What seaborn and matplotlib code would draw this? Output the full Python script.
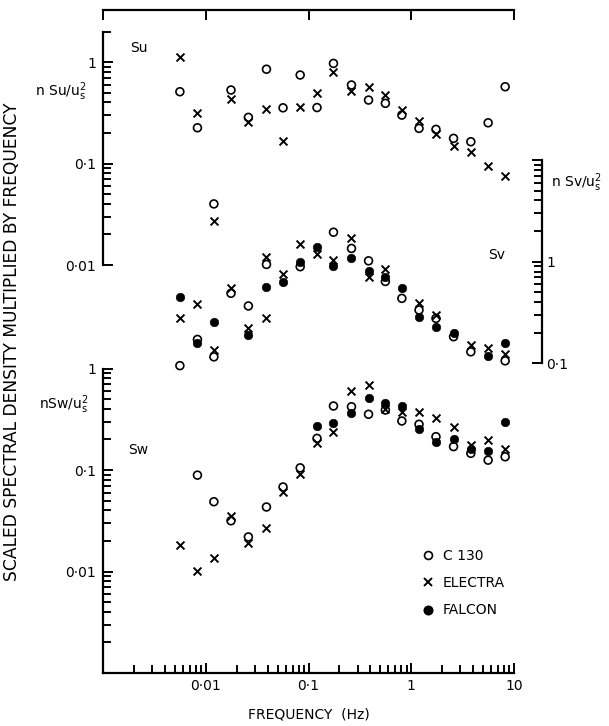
import warnings
import numpy as np
import pandas as pd
import matplotlib
matplotlib.use("Agg")
import matplotlib.pyplot as plt
import seaborn as sns
from matplotlib.ticker import FixedLocator, FixedFormatter, LogLocator, NullFormatter, NullLocator
from matplotlib.lines import Line2D

warnings.filterwarnings("ignore")

# ---- data -------------------------------------------------------------
# centre frequencies of the spectral bands (Hz)
FREQ = [0.0056, 0.0083, 0.012, 0.0176, 0.026, 0.039, 0.0565, 0.083, 0.121, 0.175,
        0.262, 0.384, 0.56, 0.81, 1.19, 1.74, 2.58, 3.8, 5.6, 8.2]

NAN = np.nan

# longitudinal component  n Su / us^2
SU_C130 = [0.51, 0.225, 0.040, 0.53, 0.285, 0.85, 0.354, 0.745, 0.356, 0.97,
           0.594, 0.422, 0.392, 0.300, 0.222, 0.217, 0.177, 0.164, 0.252, 0.571]
SU_ELECTRA = [1.11, 0.312, 0.027, 0.435, 0.258, 0.344, 0.167, 0.363, 0.50, 0.80,
              0.522, 0.563, 0.473, 0.337, 0.264, 0.195, 0.150, 0.131, 0.095, 0.076]

# lateral component  n Sv / us^2
SV_C130 = [0.095, 0.172, 0.116, 0.489, 0.367, 0.94, NAN, 0.893, NAN, 1.95,
           1.35, 1.02, 0.64, 0.436, 0.335, 0.277, 0.183, 0.130, NAN, 0.106]
SV_ELECTRA = [0.277, 0.384, 0.135, 0.547, 0.221, 1.12, 0.757, 1.48, 1.19, 1.05,
              1.70, 0.71, 0.84, NAN, 0.39, 0.299, NAN, 0.152, 0.141, 0.124]
SV_FALCON = [0.453, 0.160, 0.257, NAN, 0.19, 0.56, 0.636, 1.0, 1.40, 0.907,
             1.08, 0.81, 0.71, 0.555, 0.288, 0.23, 0.198, NAN, 0.118, 0.160]
# second Electra estimate in the 0.039 Hz band
SV_ELECTRA_EXTRA_FREQ = [0.039]
SV_ELECTRA_EXTRA = [0.277]

# vertical component  n Sw / us^2
SW_C130 = [NAN, 0.089, 0.0487, 0.0316, 0.0219, 0.0432, 0.068, 0.105, 0.205, 0.427,
           0.42, 0.354, 0.39, 0.304, 0.282, 0.213, 0.17, 0.146, 0.125, 0.135]
SW_ELECTRA = [0.0182, 0.0102, 0.0137, 0.0352, 0.019, 0.0268, 0.0607, 0.0914, 0.183, 0.238,
              0.60, 0.69, 0.40, 0.375, 0.37, 0.323, 0.267, 0.176, 0.198, 0.16]
SW_FALCON = [NAN, NAN, NAN, NAN, NAN, NAN, NAN, NAN, 0.271, 0.29,
             0.367, 0.51, 0.46, 0.427, 0.252, 0.187, 0.20, 0.16, 0.154, 0.30]

AIRCRAFT = ["C 130", "ELECTRA", "FALCON"]


def long_table(series):
    rows = []
    for name, freqs, vals in series:
        for f, v in zip(freqs, vals):
            if not np.isnan(v):
                rows.append({"freq": f, "value": v, "aircraft": name})
    return pd.DataFrame(rows)


su = long_table([("C 130", FREQ, SU_C130), ("ELECTRA", FREQ, SU_ELECTRA)])
sv = long_table([("C 130", FREQ, SV_C130), ("ELECTRA", FREQ, SV_ELECTRA),
                 ("ELECTRA", SV_ELECTRA_EXTRA_FREQ, SV_ELECTRA_EXTRA),
                 ("FALCON", FREQ, SV_FALCON)])
sw = long_table([("C 130", FREQ, SW_C130), ("ELECTRA", FREQ, SW_ELECTRA),
                 ("FALCON", FREQ, SW_FALCON)])

# ---- style ------------------------------------------------------------
sns.set_theme(style="ticks", rc={
    "axes.linewidth": 1.6,
    "axes.edgecolor": "black",
    "text.color": "black",
    "axes.labelcolor": "black",
    "xtick.color": "black", "ytick.color": "black",
    "xtick.major.width": 1.4, "ytick.major.width": 1.4,
    "xtick.minor.width": 1.4, "ytick.minor.width": 1.4,
    "xtick.direction": "in", "ytick.direction": "in",
    "axes.facecolor": "none",
})
plt.rcParams["font.family"] = ["DejaVu Sans"]
FS = 10

STYLE = {
    "C 130": dict(marker="o", s=32, facecolor="none", edgecolor="black", linewidth=1.2, zorder=4),
    "ELECTRA": dict(marker="x", s=32, color="black", linewidth=1.4, zorder=3),
    "FALCON": dict(marker="o", s=38, color="black", edgecolor="black", linewidth=0.4, zorder=2),
}

W, H = 609, 726
fig = plt.figure(figsize=(W / 100, H / 100), dpi=100)


def box(x0, y_top, x1, y_bot):
    return [x0 / W, 1 - y_bot / H, (x1 - x0) / W, (y_bot - y_top) / H]


X0, X1 = 103, 514
XLIM = (0.001, 10)

# frame carrying the frequency axis
frame = fig.add_axes(box(X0, 10, X1, 673))
frame.set_xscale("log")
frame.set_xlim(*XLIM)
frame.set_yticks([])
for side in ("left", "right"):
    frame.spines[side].set_visible(False)
frame.xaxis.set_major_locator(FixedLocator([0.001, 0.01, 0.1, 1, 10]))
frame.xaxis.set_major_formatter(FixedFormatter(["", "0\u00b701", "0\u00b71", "1", "10"]))
frame.xaxis.set_minor_locator(LogLocator(base=10, subs=np.arange(2, 10)))
frame.xaxis.set_minor_formatter(NullFormatter())
frame.tick_params(axis="x", which="major", top=True, bottom=True, length=7, labelsize=FS, pad=4)
frame.tick_params(axis="x", which="minor", top=False, bottom=True, length=6)
frame.set_xlabel("FREQUENCY  (Hz)", fontsize=FS, labelpad=11)


def panel(rect, ylim, majors, labels, side):
    ax = fig.add_axes(rect)
    ax.set_xscale("log")
    ax.set_yscale("log")
    ax.set_xlim(*XLIM)
    ax.set_ylim(*ylim)
    ax.set_xticks([])
    ax.xaxis.set_minor_locator(NullLocator())
    for s in ("top", "bottom", "left", "right"):
        ax.spines[s].set_visible(s == side)
    ax.yaxis.set_major_locator(FixedLocator(majors))
    ax.yaxis.set_major_formatter(FixedFormatter(labels))
    ax.yaxis.set_minor_locator(LogLocator(base=10, subs=np.arange(2, 10)))
    ax.yaxis.set_minor_formatter(NullFormatter())
    if side == "right":
        ax.yaxis.tick_right()
        ax.spines["right"].set_position(("outward", 20))
        ax.tick_params(axis="y", which="major", length=7.5, labelsize=FS, pad=3)
    else:
        ax.tick_params(axis="y", which="major", length=7.5, labelsize=FS, pad=5)
    ax.tick_params(axis="y", which="minor", length=5.5)
    return ax


ax_su = panel(box(X0, 31.5, X1, 265), (0.01, 2), [0.01, 0.1, 1],
              ["0\u00b701", "0\u00b71", "1"], "left")
ax_sv = panel(box(X0, 160, X1, 363.4), (0.1, 10), [0.1, 1, 10],
              ["0\u00b71", "1", ""], "right")
ax_sw = panel(box(X0, 368.5, X1, 673), (0.001, 1), [0.001, 0.01, 0.1, 1],
              ["", "0\u00b701", "0\u00b71", "1"], "left")

for ax, df in ((ax_su, su), (ax_sv, sv), (ax_sw, sw)):
    for name in ["FALCON", "ELECTRA", "C 130"]:
        sub = df[df["aircraft"] == name]
        if len(sub):
            sns.scatterplot(data=sub, x="freq", y="value", ax=ax, legend=False,
                            clip_on=False, **STYLE[name])
    ax.set_xlabel("")
    ax.set_ylabel("")


def ftext(x, y, s, size=FS, **kw):
    fig.text(x / W, 1 - y / H, s, fontsize=size, **kw)


# panel names and ordinate quantities
ftext(130, 48, "Su", ha="left", va="center")
ftext(488, 255, "Sv", ha="left", va="center")
ftext(128, 450, "Sw", ha="left", va="center")
ftext(87, 92, r"n Su/u$_{\rm s}^{2}$", ha="right", va="center")
ftext(89, 405, r"nSw/u$_{\rm s}^{2}$", ha="right", va="center")
ftext(551, 183, r"n Sv/u$_{\rm s}^{2}$", ha="left", va="center")
ftext(12, 342, "SCALED SPECTRAL DENSITY MULTIPLIED BY FREQUENCY", size=12.3,
      rotation=90, ha="center", va="center")

handles = [
    Line2D([], [], ls="none", marker="o", ms=5.7, mfc="none", mec="black", mew=1.2),
    Line2D([], [], ls="none", marker="x", ms=5.7, color="black", mew=1.4),
    Line2D([], [], ls="none", marker="o", ms=6.2, mfc="black", mec="black"),
]
fig.legend(handles, AIRCRAFT, loc="upper left", bbox_to_anchor=(422 / W, 1 - 549 / H),
           frameon=False, fontsize=FS, handlelength=0.9, handletextpad=0.6,
           labelspacing=0.95, borderpad=0, borderaxespad=0)

fig.savefig("out.png", dpi=100)
